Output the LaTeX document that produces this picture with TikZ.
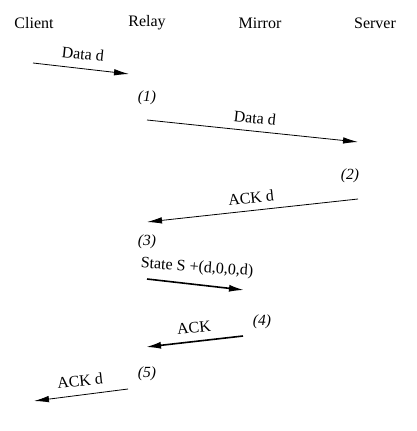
\documentclass[tikz,border=0pt]{standalone}
\usepackage{fontspec}
\setmainfont{Liberation Serif}
\usetikzlibrary{arrows.meta}
\begin{document}
\begin{tikzpicture}[x=1pt,y=-1pt,
  hdr/.style={font=\fontsize{16}{18}\selectfont, inner sep=0pt},
  lbl/.style={font=\fontsize{16}{18}\selectfont, inner sep=0pt},
  num/.style={font=\fontsize{15.5}{18}\selectfont\itshape, inner sep=0pt},
  msg/.style={line width=0.8pt, -{Latex[length=15pt,width=6.5pt]}},
  msgthick/.style={line width=1.6pt, -{Latex[length=15pt,width=7pt]}}]
\useasboundingbox (0,0) rectangle (416,431);
% headers
\node[hdr] (client) at (34,23) {Client};
\node[hdr] (relay) at (147,23) {Relay};
\node[hdr] (mirror) at (260,23) {Mirror};
\node[hdr] (server) at (375,23) {Server};
% step markers
\node[num] (s1) at (147,98) {(1)};
\node[num] (s2) at (350,176) {(2)};
\node[num] (s3) at (147,242) {(3)};
\node[num] (s4) at (262,322) {(4)};
\node[num] (s5) at (147,374) {(5)};
% endpoints
\coordinate (a1) at (33,63);   \coordinate (b1) at (129,74);
\coordinate (a2) at (147,120); \coordinate (b2) at (358,142);
\coordinate (a3) at (358,199); \coordinate (b3) at (147,222);
\coordinate (a4) at (147,279); \coordinate (b4) at (244,290);
\coordinate (a5) at (243,336); \coordinate (b5) at (146,347);
\coordinate (a6) at (128,389); \coordinate (b6) at (34,401);
% messages
\draw[msg] (a1) -- (b1);
\node[lbl, rotate=-6] (l1) at (83,54) {Data d};
\draw[msg] (a2) -- (b2);
\node[lbl, rotate=-6] (l2) at (255,118) {Data d};
\draw[msg] (a3) -- (b3);
\node[lbl, rotate=6] (l3) at (251,198) {ACK d};
\node[lbl, rotate=-4] (l4) at (197,268) {State S +(d,0,0,d)};
\draw[msgthick] (a4) -- (b4);
\draw[msgthick] (a5) -- (b5);
\node[lbl, rotate=6] (l5) at (194,328) {ACK};
\draw[msg] (a6) -- (b6);
\node[lbl, rotate=6] (l6) at (80,381) {ACK d};
\end{tikzpicture}
\end{document}
